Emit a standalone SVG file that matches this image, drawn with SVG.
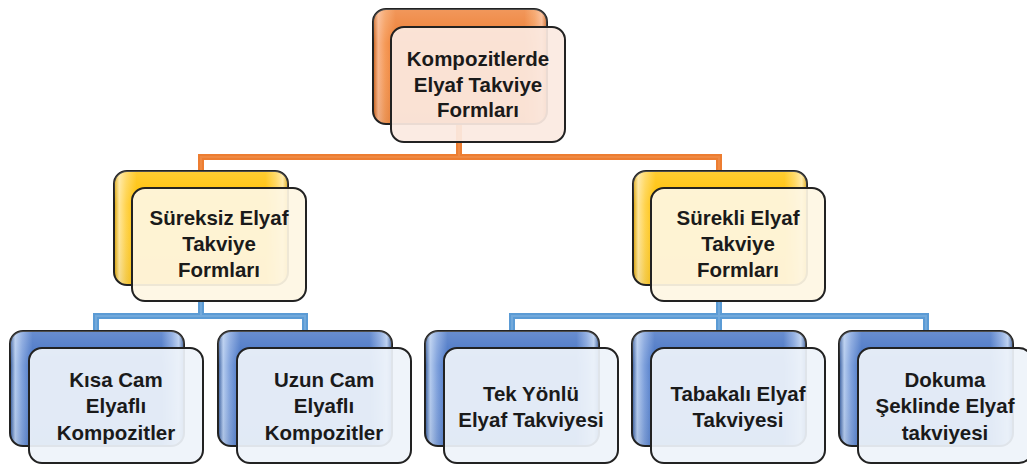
<svg xmlns="http://www.w3.org/2000/svg" width="1027" height="467" viewBox="0 0 1027 467">
<defs>
<linearGradient id="gO" x1="0" y1="0" x2="1" y2="0">
<stop offset="0" stop-color="#C95E16"/><stop offset="0.03" stop-color="#F9B58A"/><stop offset="0.07" stop-color="#F59A58"/><stop offset="0.13" stop-color="#EE7E33"/><stop offset="0.87" stop-color="#EE7E33"/><stop offset="0.93" stop-color="#F59A58"/><stop offset="0.97" stop-color="#F9B58A"/><stop offset="1" stop-color="#C95E16"/>
</linearGradient>
<linearGradient id="gY" x1="0" y1="0" x2="1" y2="0">
<stop offset="0" stop-color="#D9A000"/><stop offset="0.03" stop-color="#FFE699"/><stop offset="0.07" stop-color="#FFD34D"/><stop offset="0.13" stop-color="#FFC000"/><stop offset="0.87" stop-color="#FFC000"/><stop offset="0.93" stop-color="#FFD34D"/><stop offset="0.97" stop-color="#FFE699"/><stop offset="1" stop-color="#D9A000"/>
</linearGradient>
<linearGradient id="gB" x1="0" y1="0" x2="1" y2="0">
<stop offset="0" stop-color="#2F5597"/><stop offset="0.03" stop-color="#B4CBEE"/><stop offset="0.07" stop-color="#7FA1DC"/><stop offset="0.13" stop-color="#4472C4"/><stop offset="0.87" stop-color="#4472C4"/><stop offset="0.93" stop-color="#7FA1DC"/><stop offset="0.97" stop-color="#B4CBEE"/><stop offset="1" stop-color="#2F5597"/>
</linearGradient>
<linearGradient id="gShade" x1="0" y1="0" x2="0" y2="1">
<stop offset="0" stop-color="#ffffff" stop-opacity="0.2"/><stop offset="0.3" stop-color="#ffffff" stop-opacity="0"/><stop offset="1" stop-color="#000000" stop-opacity="0.05"/>
</linearGradient>
</defs>
<style>
.back{stroke:#222;stroke-width:2}
.shade{fill:url(#gShade);stroke:none}
.front{stroke:#222;stroke-width:2;fill-opacity:0.93}
.fo{fill:#FBEAE1}
.fy{fill:#FEF6E3}
.fb{fill:#EEF3FA}
.lbl{font-family:"Liberation Sans",Arial,sans-serif;font-weight:bold;font-size:20.5px;fill:#1a1a1a;text-anchor:middle}
.co{fill:none;stroke:#ED7D31;stroke-width:6}
.coi{fill:none;stroke:#F6A46B;stroke-width:2;opacity:0.3}
.cb{fill:none;stroke:#5B9BD5;stroke-width:6}
.cbi{fill:none;stroke:#A9CBEB;stroke-width:2;opacity:0.3}
</style>

<g id="connectors">
<path class="co" d="M201 171 V157 H719 V171 M459 124 V157"/>
<path class="coi" d="M201 171 V157 H719 V171 M459 124 V157"/>
<path class="cb" d="M96 331 V316 H305 V331 M201 300 V316"/>
<path class="cbi" d="M96 331 V316 H305 V331 M201 300 V316"/>
<path class="cb" d="M512 331 V316 H926 V331 M719 300 V331"/>
<path class="cbi" d="M512 331 V316 H926 V331 M719 300 V331"/>
</g>

<g id="n-root">
<rect class="back" x="373" y="9" width="174" height="115" rx="13" fill="url(#gO)"/>
<rect class="shade" x="373" y="9" width="174" height="115" rx="13"/>
<rect class="front fo" x="391" y="27" width="174" height="115" rx="13"/>
<text class="lbl" x="478" y="66">Kompozitlerde</text>
<text class="lbl" x="478" y="92">Elyaf Takviye</text>
<text class="lbl" x="478" y="117">Formları</text>
</g>

<g id="n-sureksiz">
<rect class="back" x="114" y="171" width="174" height="114" rx="13" fill="url(#gY)"/>
<rect class="shade" x="114" y="171" width="174" height="114" rx="13"/>
<rect class="front fy" x="132" y="188" width="174" height="113" rx="13"/>
<text class="lbl" x="219" y="225">Süreksiz Elyaf</text>
<text class="lbl" x="219" y="251">Takviye</text>
<text class="lbl" x="219" y="277">Formları</text>
</g>

<g id="n-surekli">
<rect class="back" x="633" y="171" width="174" height="114" rx="13" fill="url(#gY)"/>
<rect class="shade" x="633" y="171" width="174" height="114" rx="13"/>
<rect class="front fy" x="651" y="188" width="174" height="113" rx="13"/>
<text class="lbl" x="738" y="225">Sürekli Elyaf</text>
<text class="lbl" x="738" y="251">Takviye</text>
<text class="lbl" x="738" y="277">Formları</text>
</g>

<g id="n-kisa">
<rect class="back" x="10" y="331" width="174" height="115" rx="13" fill="url(#gB)"/>
<rect class="shade" x="10" y="331" width="174" height="115" rx="13"/>
<rect class="front fb" x="29" y="348" width="174" height="115" rx="13"/>
<text class="lbl" x="116" y="387">Kısa Cam</text>
<text class="lbl" x="116" y="413">Elyaflı</text>
<text class="lbl" x="116" y="440">Kompozitler</text>
</g>

<g id="n-uzun">
<rect class="back" x="218" y="331" width="174" height="115" rx="13" fill="url(#gB)"/>
<rect class="shade" x="218" y="331" width="174" height="115" rx="13"/>
<rect class="front fb" x="237" y="348" width="174" height="115" rx="13"/>
<text class="lbl" x="324" y="387">Uzun Cam</text>
<text class="lbl" x="324" y="413">Elyaflı</text>
<text class="lbl" x="324" y="440">Kompozitler</text>
</g>

<g id="n-tek">
<rect class="back" x="425" y="331" width="174" height="115" rx="13" fill="url(#gB)"/>
<rect class="shade" x="425" y="331" width="174" height="115" rx="13"/>
<rect class="front fb" x="444" y="348" width="174" height="115" rx="13"/>
<text class="lbl" x="531" y="401">Tek Yönlü</text>
<text class="lbl" x="531" y="427">Elyaf Takviyesi</text>
</g>

<g id="n-tabakali">
<rect class="back" x="632" y="331" width="174" height="115" rx="13" fill="url(#gB)"/>
<rect class="shade" x="632" y="331" width="174" height="115" rx="13"/>
<rect class="front fb" x="651" y="348" width="174" height="115" rx="13"/>
<text class="lbl" x="738" y="401">Tabakalı Elyaf</text>
<text class="lbl" x="738" y="427">Takviyesi</text>
</g>

<g id="n-dokuma">
<rect class="back" x="839" y="331" width="174" height="115" rx="13" fill="url(#gB)"/>
<rect class="shade" x="839" y="331" width="174" height="115" rx="13"/>
<rect class="front fb" x="858" y="348" width="174" height="115" rx="13"/>
<text class="lbl" x="945" y="387">Dokuma</text>
<text class="lbl" x="945" y="413">Şeklinde Elyaf</text>
<text class="lbl" x="945" y="440">takviyesi</text>
</g>
</svg>
